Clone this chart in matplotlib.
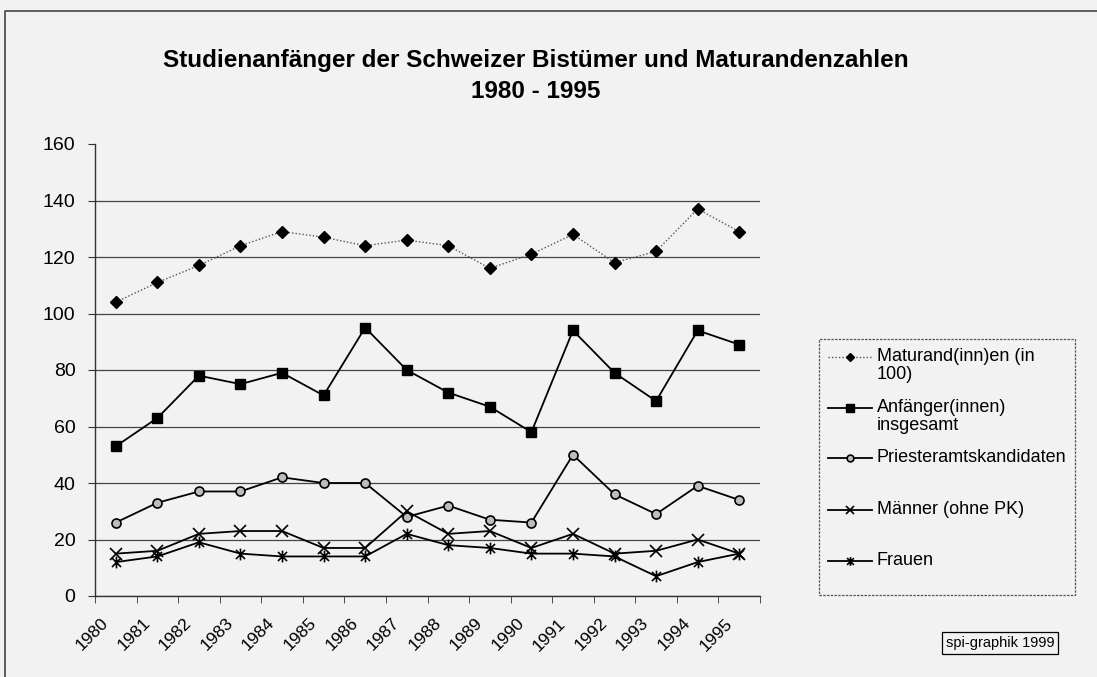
import matplotlib
matplotlib.use("Agg")
import matplotlib.pyplot as plt
from matplotlib.lines import Line2D
from matplotlib.patches import Rectangle
from matplotlib.path import Path
from matplotlib.transforms import ScaledTranslation
import numpy as np

plt.rcParams['font.family'] = ['Liberation Sans', 'DejaVu Sans']

years = [str(y) for y in range(1980, 1996)]
maturanden = [104, 111, 117, 124, 129, 127, 124, 126, 124, 116, 121, 128, 118, 122, 137, 129]
anfaenger = [53, 63, 78, 75, 79, 71, 95, 80, 72, 67, 58, 94, 79, 69, 94, 89]
priester = [26, 33, 37, 37, 42, 40, 40, 28, 32, 27, 26, 50, 36, 29, 39, 34]
maenner = [15, 16, 22, 23, 23, 17, 17, 30, 22, 23, 17, 22, 15, 16, 20, 15]
frauen = [12, 14, 19, 15, 14, 14, 14, 22, 18, 17, 15, 15, 14, 7, 12, 15]
labels = ["Maturand(inn)en (in\n100)", "Anfänger(innen)\ninsgesamt",
          "Priesteramtskandidaten", "Männer (ohne PK)", "Frauen"]
yticks = [0, 20, 40, 60, 80, 100, 120, 140, 160]

W, H = 1097, 677
bg = '#f2f2f2'
fig = plt.figure(figsize=(W / 100, H / 100), dpi=100, facecolor=bg)

def fx(px):
    return px / W

def fy(py):
    return 1 - py / H

# Excel-like star marker: x plus vertical line
star_path = Path(
    [(-1, -1), (1, 1), (-1, 1), (1, -1), (0, -1.3), (0, 1.3)],
    [Path.MOVETO, Path.LINETO, Path.MOVETO, Path.LINETO, Path.MOVETO, Path.LINETO])

ax = fig.add_axes([fx(95), fy(596), fx(760) - fx(95), fy(144) - fy(596)])
ax.set_facecolor(bg)
x = np.arange(len(years))

styles = [
    dict(color='#555555', ls=(0, (1, 1.5)), lw=1.0, marker='D', ms=6, mfc='black', mec='black'),
    dict(color='black', ls='-', lw=1.3, marker='s', ms=7, mfc='black', mec='black'),
    dict(color='black', ls='-', lw=1.3, marker='o', ms=6.5, mfc='#bdbdbd', mec='black', mew=1.2),
    dict(color='black', ls='-', lw=1.3, marker='x', ms=8, mec='black', mew=1.2),
    dict(color='black', ls='-', lw=1.3, marker=star_path, ms=8.5, mec='black', mew=1.2),
]
series = [maturanden, anfaenger, priester, maenner, frauen]
for s, st in zip(series, styles):
    ax.plot(x, s, zorder=3, **st)

ax.set_xlim(-0.5, len(years) - 0.5)
ax.set_ylim(0, 160)
ax.set_yticks(yticks)
ax.set_yticklabels([str(v) for v in yticks], fontsize=14)
ax.yaxis.grid(True, color='#444444', lw=0.9)
ax.get_ygridlines()[-1].set_visible(False)
ax.set_axisbelow(True)

ax.set_xticks(x)
ax.set_xticklabels(years, rotation=45, ha='right', va='top', rotation_mode='anchor', fontsize=12.5)
ax.tick_params(axis='x', which='major', length=0, pad=14)
off = ScaledTranslation(-15 / 100, 0, fig.dpi_scale_trans)
for lbl in ax.get_xticklabels():
    lbl.set_transform(lbl.get_transform() + off)
ax.set_xticks(np.arange(-0.5, len(years), 1.0), minor=True)
ax.tick_params(axis='x', which='minor', length=5, direction='out', color='#333333')
ax.tick_params(axis='y', length=5, direction='out', color='#333333', pad=9)
for sp in ['top', 'right']:
    ax.spines[sp].set_visible(False)
for sp in ['left', 'bottom']:
    ax.spines[sp].set_color('#333333')
    ax.spines[sp].set_linewidth(1.0)

# Title
fig.text(fx(536), fy(60), "Studienanfänger der Schweizer Bistümer und Maturandenzahlen",
         ha='center', va='center', fontsize=17.5, fontweight='bold')
fig.text(fx(536), fy(91), "1980 - 1995", ha='center', va='center', fontsize=17.5, fontweight='bold')

# Legend (manual)
fig.patches.append(Rectangle((fx(819), fy(595)), fx(1075) - fx(819), fy(339) - fy(595),
                             transform=fig.transFigure, fill=False, ec='#555555', lw=0.9,
                             ls=(0, (2, 1))))
rows = [357, 408, 458, 510, 561]
for lab, st, yy in zip(labels, styles, rows):
    st2 = dict(st)
    st2['ms'] = st2['ms'] * 0.75
    ln = Line2D([fx(828), fx(850), fx(872)], [fy(yy)] * 3, transform=fig.transFigure,
                markevery=[1], **st2)
    fig.lines.append(ln)
    fig.text(fx(877), fy(yy - 9), lab, ha='left', va='top', fontsize=13, linespacing=1.1)

# footer box
fig.text(fx(1000), fy(643), "spi-graphik 1999", ha='center', va='center', fontsize=10.5,
         bbox=dict(boxstyle='square,pad=0.25', fc='none', ec='black', lw=0.9))

# outer frame
fig.lines.append(Line2D([fx(5), fx(5), fx(1097)], [fy(677), fy(11), fy(11)],
                        transform=fig.transFigure, color='#444444', lw=1.2))

fig.savefig('out.png', dpi=100, facecolor=bg)
